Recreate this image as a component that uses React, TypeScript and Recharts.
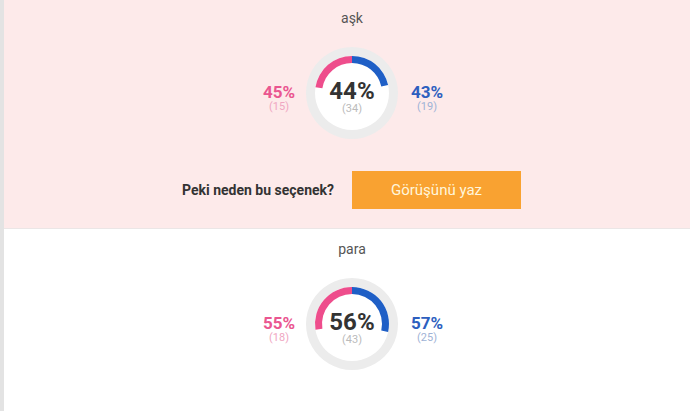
import React from 'react';
import { PieChart, Pie, Cell } from 'recharts';

const questions = ['aşk', 'para'];
const femalePct = [45, 55];
const femaleCount = [15, 18];
const malePct = [43, 57];
const maleCount = [19, 25];
const totalPct = [44, 56];
const totalCount = [34, 43];

const PINK = '#ee4d8c';
const BLUE = '#1f5fc6';
const FONT = 'Roboto, "Noto Sans", sans-serif';

function Donut({ female, male }: { female: number; male: number }) {
  const femaleData = [{ v: female }, { v: 100 - female }];
  const maleData = [{ v: male }, { v: 100 - male }];
  return (
    <PieChart width={100} height={100} margin={{ top: 0, right: 0, bottom: 0, left: 0 }}>
      <Pie data={[{ v: 1 }]} dataKey="v" cx={50} cy={50} innerRadius={0} outerRadius={46} fill="#ececec" stroke="none" isAnimationActive={false} />
      <Pie data={[{ v: 1 }]} dataKey="v" cx={50} cy={50} innerRadius={0} outerRadius={37} fill="#ffffff" stroke="none" isAnimationActive={false} />
      <Pie data={femaleData} dataKey="v" cx={50} cy={50} innerRadius={30} outerRadius={37} startAngle={90} endAngle={270} stroke="none" isAnimationActive={false}>
        <Cell fill={PINK} />
        <Cell fill="transparent" />
      </Pie>
      <Pie data={maleData} dataKey="v" cx={50} cy={50} innerRadius={30} outerRadius={37} startAngle={90} endAngle={-90} stroke="none" isAnimationActive={false}>
        <Cell fill={BLUE} />
        <Cell fill="transparent" />
      </Pie>
    </PieChart>
  );
}

function Result({ i, top }: { i: number; top: number }) {
  // top = y of the ring centre
  const cx = 352;
  return (
    <>
      <div style={{ position: 'absolute', left: cx - 100, width: 200, top: top - 84, textAlign: 'center', fontSize: 14, color: '#555', lineHeight: '18px' }}>
        {questions[i]}
      </div>
      <div style={{ position: 'absolute', left: cx - 50, top: top - 50 }}>
        <Donut female={femalePct[i]} male={malePct[i]} />
      </div>
      <div style={{ position: 'absolute', left: cx - 50, width: 100, top: top - 12, textAlign: 'center', fontSize: 24, fontWeight: 700, color: '#333', lineHeight: '21px' }}>
        {totalPct[i]}%
      </div>
      <div style={{ position: 'absolute', left: cx - 50, width: 100, top: top + 10, textAlign: 'center', fontSize: 11, color: '#bbb', lineHeight: '12px' }}>
        ({totalCount[i]})
      </div>
      <div style={{ position: 'absolute', left: 279 - 40, width: 80, top: top - 9, textAlign: 'center', fontSize: 17, fontWeight: 700, color: '#ea5690', lineHeight: '16px' }}>
        {femalePct[i]}%
      </div>
      <div style={{ position: 'absolute', left: 279 - 40, width: 80, top: top + 8, textAlign: 'center', fontSize: 11, color: '#f0a6c2', lineHeight: '12px' }}>
        ({femaleCount[i]})
      </div>
      <div style={{ position: 'absolute', left: 427 - 40, width: 80, top: top - 9, textAlign: 'center', fontSize: 17, fontWeight: 700, color: '#2d5fbf', lineHeight: '16px' }}>
        {malePct[i]}%
      </div>
      <div style={{ position: 'absolute', left: 427 - 40, width: 80, top: top + 8, textAlign: 'center', fontSize: 11, color: '#9fb3d6', lineHeight: '12px' }}>
        ({maleCount[i]})
      </div>
    </>
  );
}

export default function App() {
  return (
    <div style={{ position: 'absolute', left: 0, top: 0, width: 690, height: 411, overflow: 'hidden', background: '#fff', fontFamily: FONT }}>
      <div style={{ position: 'absolute', left: 0, top: 0, width: 690, height: 228, background: '#fdeaea', borderBottom: '1px solid #ebe6e6' }} />
      <div style={{ position: 'absolute', left: 0, top: 0, width: 4, height: 411, background: '#e3e3e3' }} />
      <Result i={0} top={93} />
      <div style={{ position: 'absolute', left: 100, width: 234, top: 181, textAlign: 'right', fontSize: 14, fontWeight: 700, color: '#333', lineHeight: '18px' }}>
        Peki neden bu seçenek?
      </div>
      <div style={{ position: 'absolute', left: 352, top: 171, width: 169, height: 38, background: '#f9a231', color: '#fff6dc', fontSize: 15, lineHeight: '38px', textAlign: 'center' }}>
        Görüşünü yaz
      </div>
      <Result i={1} top={324} />
    </div>
  );
}
